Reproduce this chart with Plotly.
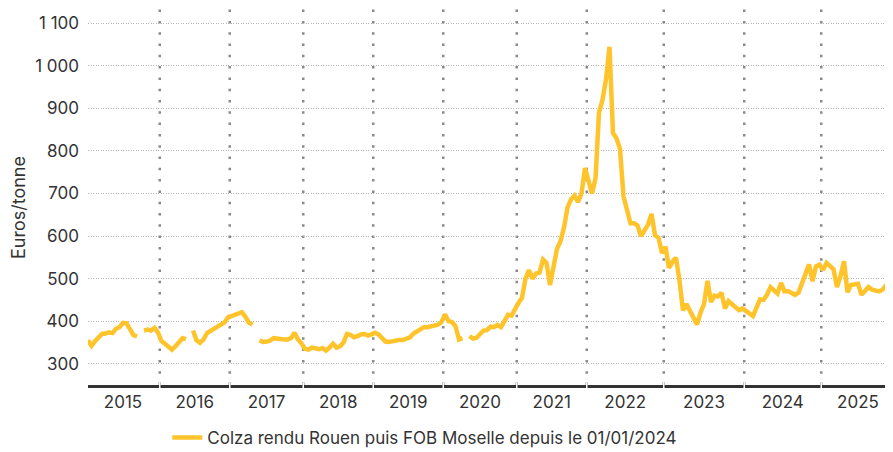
import plotly.graph_objects as go

# ---- data (Euros/tonne); None = missing quotation ----
years = ["2015", "2016", "2017", "2018", "2019", "2020", "2021", "2022", "2023", "2024", "2025"]

y2015 = [355, 342, 353, 362, 370, 371, 374, 372, 382, 386, 396, 395, 379, 367, 364, None, 378, 380, 378, 384, 373]
y2016 = [353, 347, 341, 333, 341, 351, 360, 357, None, 378, 355, 349, 357, 372, 377, 382, 386, 393, 397, 409]
y2017 = [412, 414, 419, 421, 410, 396, 392, None, 355, 351, 352, 354, 360, 360, 358, 357, 357, 360, 373, 357, 348]
y2018 = [335, 333, 338, 336, 334, 337, 331, 338, 347, 338, 341, 350, 370, 368, 362, 365, 369, 370, 366, 369]
y2019 = [373, 369, 360, 352, 351, 353, 355, 356, 356, 358, 362, 371, 376, 384, 386, 386, 388, 390, 392, 398]
y2020 = [416, 400, 398, 388, 357, 360, None, 365, 359, 361, 370, 378, 379, 387, 386, 391, 386, 400, 415, 413, 430]
y2021 = [443, 455, 500, 520, 500, 512, 514, 545, 537, 485, 525, 570, 588, 620, 667, 686, 695, 680, 700, 760]
y2022 = [730, 700, 735, 890, 920, 968, 1045, 842, 830, 805, 693, 660, 630, 630, 625, 600, 615, 627, 652, 602, 596, 560]
y2023 = [575, 525, 540, 549, 495, 425, 440, 425, 405, 392, 420, 440, 495, 445, 460, 458, 467, 430, 447, 440, 433, 426, 430]
y2024 = [424, 416, 412, 432, 451, 450, 462, 480, 472, 465, 490, 470, 471, 465, 462, 467, 490, 512, 533, 494, 529, 533]
y2025 = [520, 537, 530, 522, 480, 506, 541, 468, 485, 486, 488, 462, 470, 480, 474, 472, 470, 474, 484, 488, 490]

series_by_year = [y2015, y2016, y2017, y2018, y2019, y2020, y2021, y2022, y2023, y2024, y2025]

y_tick_vals = [300, 400, 500, 600, 700, 800, 900, 1000, 1100]
y_tick_text = ["300", "400", "500", "600", "700", "800", "900", "1 000", "1 100"]

series_name = "Colza rendu Rouen puis FOB Moselle depuis le 01/01/2024"
y_title = "Euros/tonne"

# ---- build positions from the data ----
values = []
starts, ends = [], []
for ys in series_by_year:
    starts.append(len(values))
    values.extend(ys)
    ends.append(len(values) - 1)
x = list(range(len(values)))
label_pos = [(s + e) / 2 for s, e in zip(starts, ends)]
boundaries = [e + 0.5 for e in ends[:-1]]

FONT = "Inter, 'Open Sans', sans-serif"
TXT = "#333333"
YELLOW = "#FFC42B"

fig = go.Figure()
fig.add_trace(go.Scatter(
    x=x, y=values, mode="lines", name=series_name,
    line=dict(color=YELLOW, width=4.5), connectgaps=False,
    hoverinfo="skip",
))

shapes = []
for b in boundaries:
    shapes.append(dict(type="line", xref="x", yref="paper", x0=b, x1=b, y0=0, y1=1,
                       line=dict(color="#8a8a8a", width=2.5, dash="2.5px,8.8px"), layer="below"))
    shapes.append(dict(type="line", xref="x", yref="paper", x0=b, x1=b, y0=-0.012, y1=0.006,
                       line=dict(color="white", width=1.5), layer="above"))

# the page body adds an 8px offset, so the figure is 8px smaller in each direction
fig.update_layout(
    width=885, height=444,
    margin=dict(l=80, r=0, t=0, b=67, autoexpand=False),
    paper_bgcolor="white", plot_bgcolor="white",
    font=dict(family=FONT, size=17, color=TXT),
    showlegend=True,
    legend=dict(orientation="h", xref="container", x=0.18, xanchor="left",
                yref="container", y=0.0315, yanchor="middle", font=dict(size=17, color=TXT),
                itemwidth=30, bgcolor="rgba(0,0,0,0)"),
    shapes=shapes,
    annotations=[dict(text=y_title, xref="paper", yref="paper", x=-0.0857, y=0.4695,
                      xanchor="center", yanchor="middle", textangle=-90, showarrow=False,
                      font=dict(size=18, color=TXT))],
    xaxis=dict(range=[0, len(values) - 1], tickmode="array", tickvals=label_pos, ticktext=years,
               showgrid=False, zeroline=False, showline=True, linecolor="#333333", linewidth=3,
               ticks="", ticklabelstandoff=0, tickfont=dict(size=17, color=TXT),
               automargin=False, fixedrange=True),
    yaxis=dict(range=[250, 1136], tickmode="array", tickvals=y_tick_vals, ticktext=y_tick_text,
               showgrid=True, gridcolor="#b5b5b5", gridwidth=1, griddash="1px,1.5px",
               zeroline=False, showline=False, ticks="", ticklabelstandoff=8,
               tickfont=dict(size=17, color=TXT), automargin=False, fixedrange=True),
)

fig.write_html("out.html")
